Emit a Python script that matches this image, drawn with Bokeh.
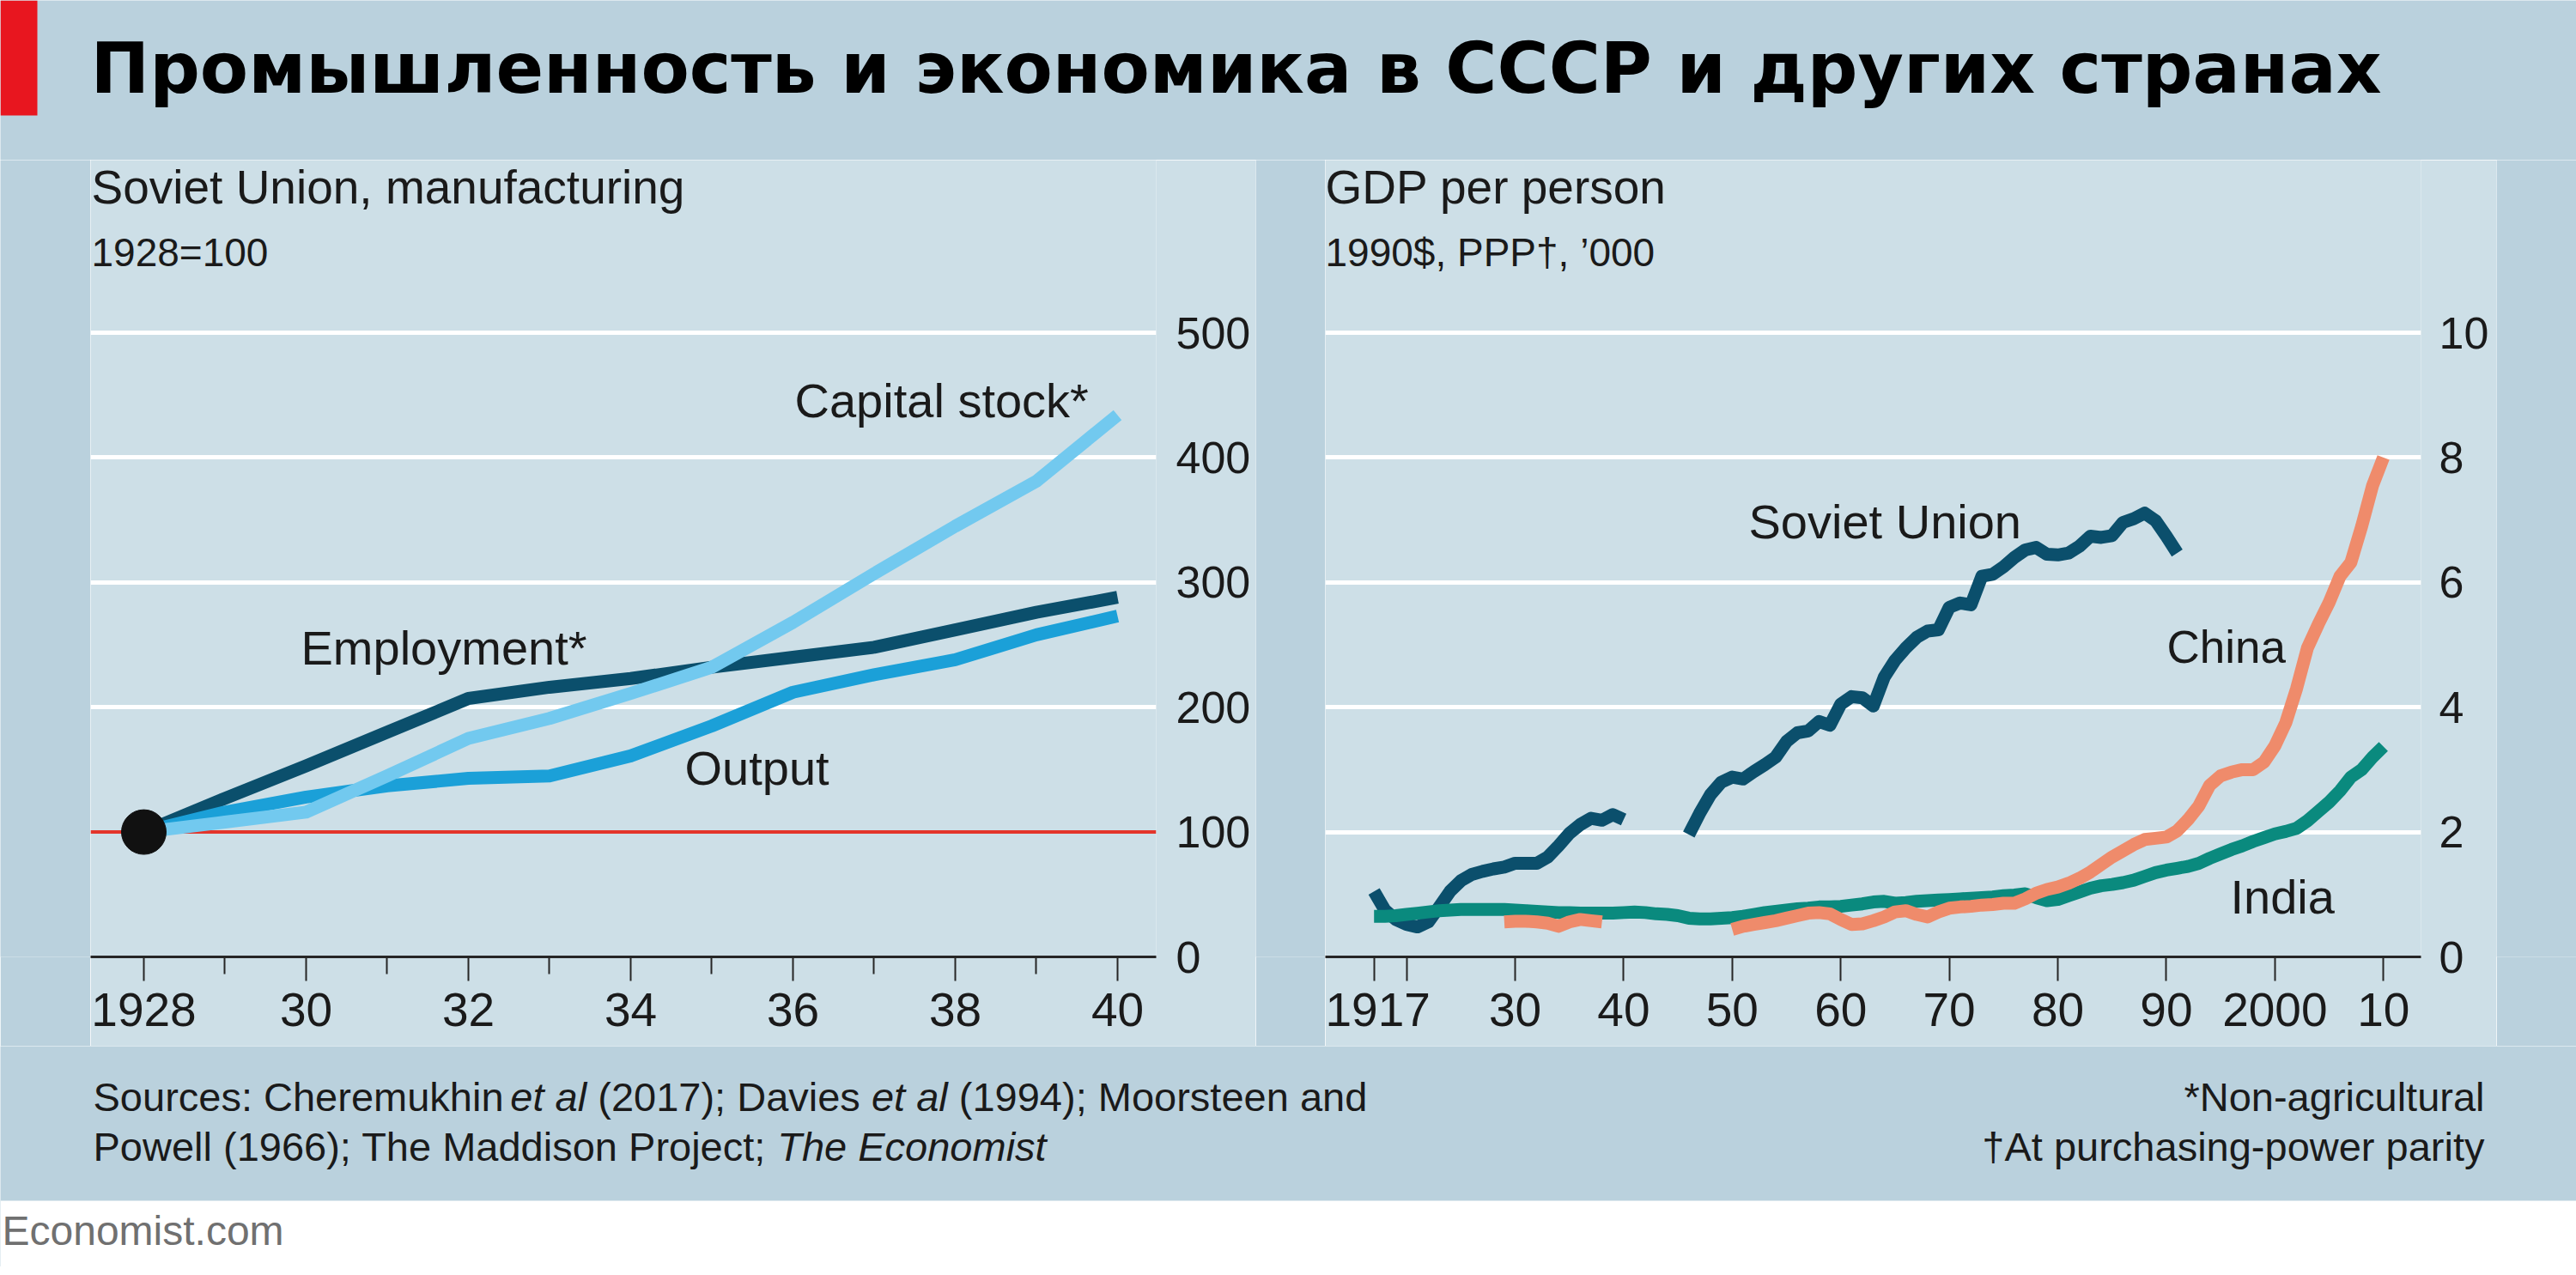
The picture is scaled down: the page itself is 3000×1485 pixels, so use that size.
from bokeh.plotting import figure
from bokeh.models import Range1d, FixedTicker, Span, Label, BoxAnnotation
from bokeh.layouts import column, row
from bokeh.embed import file_html
from bokeh.resources import INLINE

# ---------------- data ----------------
mfg_years = [1928, 1929, 1930, 1931, 1932, 1933, 1934, 1935, 1936, 1937, 1938, 1939, 1940]
employment = [100, 127, 153, 180, 207, 216, 223, 232, 240, 248, 262, 276, 288]
output = [100, 116, 128, 137, 143, 145, 161, 185, 212, 226, 238, 258, 273]
capital_stock = [100, 108, 116, 145, 175, 191, 211, 232, 268, 307, 345, 381, 434]
base_year = [1928]
base_value = [100]

soviet_years_a = list(range(1917, 1941))
soviet_gdp_a = [1.05, 0.75, 0.60, 0.52, 0.48, 0.56, 0.80, 1.05, 1.22, 1.32, 1.37, 1.41,
                1.44, 1.50, 1.50, 1.50, 1.60, 1.78, 1.98, 2.12, 2.22, 2.19, 2.28, 2.20]
soviet_years_b = list(range(1946, 1992))
soviet_gdp_b = [1.96, 2.30, 2.60, 2.80, 2.88, 2.85, 2.97, 3.08, 3.20, 3.45,
                3.59, 3.62, 3.77, 3.71, 4.05, 4.17, 4.15, 4.02, 4.48, 4.75,
                4.95, 5.12, 5.22, 5.24, 5.60, 5.67, 5.64, 6.10, 6.13, 6.25,
                6.40, 6.52, 6.56, 6.45, 6.44, 6.47, 6.58, 6.74, 6.72, 6.75,
                6.96, 7.02, 7.11, 6.99, 6.74, 6.47]
china_years_a = list(range(1929, 1939))
china_gdp_a = [0.56, 0.57, 0.57, 0.56, 0.54, 0.49, 0.56, 0.60, 0.58, 0.56]
china_years_b = list(range(1950, 2011))
china_gdp_b = [0.44, 0.49, 0.52, 0.55, 0.58, 0.62, 0.66, 0.70, 0.71, 0.69,
               0.60, 0.52, 0.53, 0.58, 0.64, 0.72, 0.74, 0.68, 0.64, 0.72,
               0.78, 0.80, 0.81, 0.83, 0.84, 0.86, 0.86, 0.93, 1.02, 1.08,
               1.12, 1.18, 1.26, 1.36, 1.48, 1.60, 1.70, 1.80, 1.88, 1.90,
               1.92, 2.02, 2.20, 2.42, 2.75, 2.90, 2.96, 3.00, 3.00, 3.12,
               3.38, 3.75, 4.30, 4.95, 5.33, 5.68, 6.10, 6.32, 6.90, 7.55, 8.00]
india_years = list(range(1917, 2011))
india_gdp = [0.65, 0.65, 0.66, 0.68, 0.70, 0.72, 0.74, 0.75, 0.76, 0.76,
             0.76, 0.76, 0.76, 0.75, 0.74, 0.73, 0.72, 0.71, 0.71, 0.70,
             0.70, 0.70, 0.70, 0.71, 0.72, 0.71, 0.69, 0.68, 0.66, 0.62,
             0.61, 0.61, 0.62, 0.63, 0.65, 0.68, 0.71, 0.73, 0.75, 0.77,
             0.78, 0.80, 0.80, 0.81, 0.83, 0.85, 0.88, 0.89, 0.86, 0.87,
             0.89, 0.90, 0.91, 0.92, 0.93, 0.94, 0.95, 0.96, 0.98, 0.99,
             1.01, 0.95, 0.90, 0.92, 0.98, 1.04, 1.10, 1.14, 1.16, 1.19,
             1.23, 1.29, 1.35, 1.39, 1.42, 1.45, 1.50, 1.58, 1.65, 1.72,
             1.78, 1.85, 1.91, 1.97, 2.01, 2.06, 2.18, 2.33, 2.48, 2.66,
             2.88, 3.00, 3.20, 3.37]

left_x_ticks = [1928, 1930, 1932, 1934, 1936, 1938, 1940]
left_x_minor = [1929, 1931, 1933, 1935, 1937, 1939]
left_x_labels = ["1928", "30", "32", "34", "36", "38", "40"]
left_y_ticks = [0, 100, 200, 300, 400, 500]
right_x_ticks = [1917, 1920, 1930, 1940, 1950, 1960, 1970, 1980, 1990, 2000, 2010]
right_x_labels = ["1917", "", "30", "40", "50", "60", "70", "80", "90", "2000", "10"]
right_y_ticks = [0, 2, 4, 6, 8, 10]

# ---------------- style ----------------
BG = "#bad1dd"
PANEL = "#cddfe7"
INK = "#1a1a1a"
FONT = "Liberation Sans"
EMP_C = "#0b4f6c"
OUT_C = "#1ba0d8"
CAP_C = "#72c9ef"
SOV_C = "#0b4f6c"
CHN_C = "#ef8b6b"
IND_C = "#0a8a7e"
RED = "#e3352b"
LW = 15

W = 3000
PANEL_TOP = 186
TOP_H = PANEL_TOP
AXIS_Y = 1114
PANEL_BOT = 1218
TOTAL_H = 1475
ROW_H = PANEL_BOT - PANEL_TOP
BOT_H = TOTAL_H - PANEL_BOT
FRAME_H = AXIS_Y - PANEL_TOP
SHIFT = 0.375   # Bokeh label baseline correction, in em

L_LEFT, L_FRAME_R, L_BORDER = 105, 1346, 116
R_LEFT, R_FRAME_R, R_BORDER = 1543, 2819, 88

ARIAL = {' ': 278, '(': 333, ')': 333, ';': 278, ':': 278, ',': 278, '.': 278, '-': 333,
         '*': 389, 'A': 667, 'C': 722, 'D': 722, 'E': 667, 'M': 833, 'P': 667, 'T': 611,
         'a': 556, 'b': 556, 'c': 500, 'd': 556, 'e': 556, 'f': 278, 'g': 556, 'h': 556,
         'i': 222, 'j': 222, 'k': 500, 'l': 222, 'm': 833, 'n': 556, 'o': 556, 'p': 556,
         'r': 333, 's': 500, 't': 278, 'u': 556, 'v': 500, 'w': 722, 'y': 500}


def text_w(s, size):
    return sum(ARIAL.get(c, 556) for c in s) * size / 1000.0


def ident(v):
    return v


def lab(p, x, y, text, size, align="left", font=FONT, style="normal", color=INK,
        cx=ident, cy=ident):
    p.add_layout(Label(x=cx(x), y=cy(y - SHIFT * size), text=text, text_font=font,
                       text_font_size=f"{size}px", text_font_style=style, text_color=color,
                       text_align=align, text_baseline="alphabetic"))


def runs(p, parts, x0, y, size):
    x = x0
    for txt, italic in parts:
        lead = len(txt) - len(txt.lstrip(" "))
        lab(p, x + text_w(txt[:lead], size), y, txt.strip(" "), size,
            style="italic" if italic else "normal")
        x += text_w(txt, size)


def plain(w, h, xr=None, yr=None, fill=BG):
    p = figure(width=w, height=h, toolbar_location=None, output_backend="svg",
               x_axis_type=None, y_axis_type=None, min_border=0,
               x_range=xr if xr is not None else Range1d(0, 1),
               y_range=yr if yr is not None else Range1d(0, 1),
               background_fill_color=fill, border_fill_color=fill, outline_line_color=None)
    p.xgrid.visible = False
    p.ygrid.visible = False
    return p


def chart(width, border_r, xr, yr, xt, xminor, xlabels, yt, grid_ticks, standoff):
    p = figure(width=width, height=ROW_H, x_range=xr, y_range=yr,
               toolbar_location=None, output_backend="svg", y_axis_location="right",
               min_border_left=0, min_border_top=0, min_border_right=border_r,
               min_border_bottom=PANEL_BOT - AXIS_Y,
               background_fill_color=PANEL, border_fill_color=PANEL, outline_line_color=None)
    p.xgrid.visible = False
    p.ygrid.ticker = FixedTicker(ticks=grid_ticks)
    p.ygrid.grid_line_color = "white"
    p.ygrid.grid_line_width = 5
    xa = p.xaxis[0]
    xa.ticker = FixedTicker(ticks=xt, minor_ticks=xminor)
    xa.major_label_overrides = {t: l for t, l in zip(xt, xlabels)}
    xa.axis_line_color = "#262626"
    xa.axis_line_width = 3
    xa.major_tick_line_color = "#262626"
    xa.major_tick_line_width = 2
    xa.major_tick_out = 28
    xa.major_tick_in = 0
    xa.minor_tick_line_color = "#262626"
    xa.minor_tick_line_width = 2
    xa.minor_tick_out = 20
    xa.minor_tick_in = 0
    xa.major_label_standoff = 14
    xa.major_label_text_font = FONT
    xa.major_label_text_font_size = "55px"
    xa.major_label_text_color = INK
    ya = p.yaxis[0]
    ya.ticker = FixedTicker(ticks=yt)
    ya.axis_line_color = None
    ya.major_tick_line_color = None
    ya.minor_tick_line_color = None
    ya.major_label_standoff = standoff
    ya.major_label_text_font = FONT
    ya.major_label_text_font_size = "52px"
    ya.major_label_text_color = INK
    return p


# ---------------- left chart ----------------
L_X0, L_PPY = 1927.344, 94.5
L_FW = L_FRAME_R - L_LEFT
lx = lambda rx: L_X0 + (rx - L_LEFT) / L_PPY
ly = lambda ry: (AXIS_Y - ry) / 1.454
left = chart(L_FW + L_BORDER, L_BORDER, Range1d(L_X0, L_X0 + L_FW / L_PPY),
             Range1d(0, FRAME_H / 1.454),
             left_x_ticks, left_x_minor, left_x_labels, left_y_ticks, [200, 300, 400, 500], 17)
left.add_layout(Span(location=100, dimension="width", line_color=RED, line_width=4, level="underlay"))
for ys, c in [(employment, EMP_C), (output, OUT_C), (capital_stock, CAP_C)]:
    left.line(mfg_years, ys, line_color=c, line_width=LW, line_cap="butt", line_join="round")
left.scatter(base_year, base_value, size=52, color="#111111")
lab(left, 106, 238, "Soviet Union, manufacturing", 55, cx=lx, cy=ly)
lab(left, 106, 311, "1928=100", 46, cx=lx, cy=ly)
lab(left, 925, 487, "Capital stock*", 56, cx=lx, cy=ly)
lab(left, 350, 775, "Employment*", 56, cx=lx, cy=ly)
lab(left, 797, 915, "Output", 56, cx=lx, cy=ly)

# ---------------- right chart ----------------
R_X0, R_PPY = 1912.514, 12.64
R_FW = R_FRAME_R - R_LEFT
rxd = lambda rx: R_X0 + (rx - R_LEFT) / R_PPY
ryd = lambda ry: (AXIS_Y - ry) / 72.7
right = chart(R_FW + R_BORDER, R_BORDER, Range1d(R_X0, R_X0 + R_FW / R_PPY),
              Range1d(0, FRAME_H / 72.7),
              right_x_ticks, [], right_x_labels, right_y_ticks, [2, 4, 6, 8, 10], 15)
for xs, ys, c in [(soviet_years_a, soviet_gdp_a, SOV_C), (soviet_years_b, soviet_gdp_b, SOV_C),
                  (india_years, india_gdp, IND_C),
                  (china_years_a, china_gdp_a, CHN_C), (china_years_b, china_gdp_b, CHN_C)]:
    right.line(xs, ys, line_color=c, line_width=LW, line_cap="butt", line_join="round")
lab(right, 1543, 238, "GDP per person", 55, cx=rxd, cy=ryd)
lab(right, 1543, 311, "1990$, PPP\u2020, \u2019000", 46, cx=rxd, cy=ryd)
lab(right, 2036, 628, "Soviet Union", 56, cx=rxd, cy=ryd)
lab(right, 2523, 773, "China", 53, cx=rxd, cy=ryd)
lab(right, 2597, 1065, "India", 56, cx=rxd, cy=ryd)

# ---------------- header ----------------
top = plain(W, TOP_H, Range1d(0, W), Range1d(TOP_H, 0))
top.add_layout(BoxAnnotation(left=0, right=43, top=0, bottom=134, fill_color="#e8161f",
                             fill_alpha=1, line_color=None))
lab(top, 105, 110, "Промышленность и экономика в СССР и других странах", 82,
    font="DejaVu Sans", style="bold", color="#000000")

# ---------------- footer ----------------
bot = plain(W, BOT_H, Range1d(0, W), Range1d(TOTAL_H, PANEL_BOT))
bot.add_layout(BoxAnnotation(left=0, right=W, top=1398, bottom=TOTAL_H,
                             fill_color="white", fill_alpha=1, line_color=None))
runs(bot, [("Sources: Cheremukhin ", False), ("et al", True), (" (2017); Davies ", False),
           ("et al", True), (" (1994); Moorsteen and", False)], 108, 1295, 47)
runs(bot, [("Powell (1966); The Maddison Project; ", False), ("The Economist", True)], 108, 1353, 47)
lab(bot, 2893, 1295, "*Non-agricultural", 47, align="right")
lab(bot, 2893, 1353, "\u2020At purchasing-power parity", 47, align="right")
lab(bot, 2, 1451, "Economist.com", 48, color="#707070")

left_w = L_FW + L_BORDER
right_w = R_FW + R_BORDER
mid = row(plain(L_LEFT, ROW_H), left, plain(R_LEFT - L_LEFT - left_w, ROW_H), right,
          plain(W - R_LEFT - right_w, ROW_H))
layout = column(top, mid, bot)

open("out.html", "w").write(file_html(layout, INLINE))
